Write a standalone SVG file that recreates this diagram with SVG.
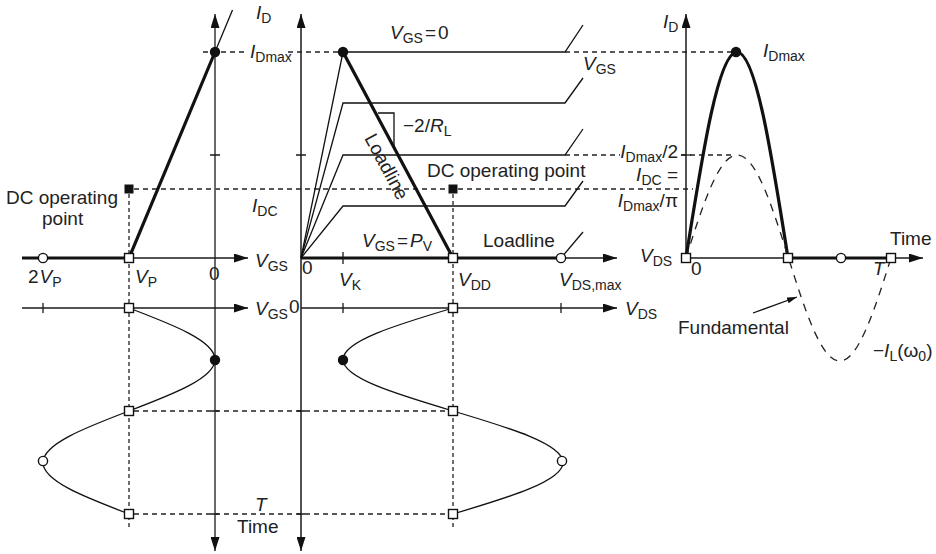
<svg xmlns="http://www.w3.org/2000/svg" width="936" height="554" viewBox="0 0 936 554">
<style>
text{font-family:"Liberation Sans",Arial,sans-serif;font-size:19px;fill:#222}
.i{font-style:italic}
.s{font-size:14px;font-style:normal}
.ax{stroke:#1a1a1a;stroke-width:1.5;fill:none}
.axg{stroke:#5a5a5a;stroke-width:1.8;fill:none}
.tk{stroke:#1a1a1a;stroke-width:1.3}
.th{stroke:#111;stroke-width:3.2;fill:none;stroke-linejoin:round}
.tn{stroke:#111;stroke-width:1.3;fill:none}
.da{stroke:#222;stroke-width:1.3;stroke-dasharray:5 4;fill:none}
.dt{stroke:#222;stroke-width:1.3;stroke-dasharray:4 3;fill:none}
.fd{stroke:#222;stroke-width:1.3;stroke-dasharray:8 7;fill:none}
.sq{fill:#fff;stroke:#111;stroke-width:1.4}
.fsq{fill:#111}
.oc{fill:#fff;stroke:#111;stroke-width:1.4}
.fc{fill:#111}
</style>
<defs>
<marker id="ah" viewBox="0 0 14 9" refX="14" refY="4.5" markerWidth="14" markerHeight="9" markerUnits="userSpaceOnUse" orient="auto-start-reverse"><path d="M0,0 L14,4.5 L0,9 z" fill="#111"/></marker>
<marker id="ahs" viewBox="0 0 10 6" refX="10" refY="3" markerWidth="10" markerHeight="6" markerUnits="userSpaceOnUse" orient="auto"><path d="M0,0 L10,3 L0,6 z" fill="#111"/></marker>
</defs>

<g id="guides">
<path class="da" d="M203,52 H245 M288,52 H343 M565,52 H735"/>
<path class="da" d="M565,155 H620 M681,155 H735"/>
<path class="da" d="M134,189 H448 M458,189 H693"/>
<path class="da" d="M134,411 H448 M134,514 H448"/>
<path class="dt" d="M129,194 V527 M453,194 V527"/>
</g>

<g id="left-panel">
<path class="axg" d="M215,551 V14" marker-start="url(#ah)" marker-end="url(#ah)"/>
<path class="tk" d="M210,155 H220 M211,411 H219 M211,514 H219"/>
<path class="ax" d="M129,258 H248" marker-end="url(#ah)"/>
<path class="th" d="M22,258 H129"/>
<path class="ax" d="M22,308 H248" marker-end="url(#ah)"/>
<path class="tk" d="M43,303 V313"/>
<path class="th" d="M129,258 L215,52"/>
<path class="tn" d="M215,52 L232.5,10"/>
<path class="tn" d="M129,308 C173.1,324.8 215,340.9 215,359.5 C215,378.1 173.1,394.2 129,411 C84.9,427.8 43,443.9 43,462.5 C43,481.1 84.9,497.2 129,514"/>
<circle class="fc" cx="215" cy="52" r="5.2"/>
<circle class="oc" cx="43" cy="258" r="4.6"/>
<rect class="sq" x="124.5" y="253.5" width="9" height="9"/>
<rect class="fsq" x="124.5" y="184.5" width="9" height="9"/>
<rect class="sq" x="124.5" y="303.5" width="9" height="9"/>
<circle class="fc" cx="215" cy="360" r="5.2"/>
<rect class="sq" x="124.5" y="406.5" width="9" height="9"/>
<circle class="oc" cx="43" cy="461" r="4.6"/>
<rect class="sq" x="124.5" y="509.5" width="9" height="9"/>
<text x="256" y="19"><tspan class="i">I</tspan><tspan class="s" dy="4">D</tspan></text>
<text x="250" y="58"><tspan class="i">I</tspan><tspan class="s" dy="4">Dmax</tspan></text>
<text x="6" y="204">DC operating</text>
<text x="42" y="225">point</text>
<text x="252" y="212"><tspan class="i">I</tspan><tspan class="s" dy="4">DC</tspan></text>
<text x="255" y="267"><tspan class="i">V</tspan><tspan class="s" dy="4">GS</tspan></text>
<text x="28" y="283">2<tspan class="i" dx="1">V</tspan><tspan class="s" dy="4">P</tspan></text>
<text x="135" y="283"><tspan class="i">V</tspan><tspan class="s" dy="4">P</tspan></text>
<text x="209" y="280">0</text>
<text x="255" y="315"><tspan class="i">V</tspan><tspan class="s" dy="4">GS</tspan></text>
<text x="289" y="313">0</text>
<text x="255" y="511" class="i">T</text>
<text x="237" y="533">Time</text>
</g>

<g id="mid-panel">
<path class="ax" d="M301,551 V14" marker-start="url(#ah)" marker-end="url(#ah)"/>
<path class="tk" d="M296,155 H306 M297,411 H305 M297,514 H305"/>
<path class="ax" d="M561,258 H617" marker-end="url(#ah)"/>
<path class="th" d="M301,258 H561"/>
<path class="tk" d="M343,252 V264"/>
<path class="ax" d="M301,308 H617" marker-end="url(#ah)"/>
<path class="tk" d="M343,303 V313 M561,303 V313"/>
<path class="tn" d="M301,258 L343,52 H565 L583,25"/>
<path class="tn" d="M301,258 L343,103 H565 L583,78"/>
<path class="tn" d="M301,258 L343,155 H565 L583,129"/>
<path class="tn" d="M301,258 L343,206 H565 L583,181"/>
<path class="tn" d="M561,258 L583,232"/>
<path class="th" d="M343,52 L453,258"/>
<path class="tn" d="M378,113 H394 V147"/>
<path class="tn" d="M453,308 C396.7,324.8 343,340.9 343,359.5 C343,378.1 396.7,394.2 453,411 C509.3,427.8 563,443.9 563,462.5 C563,481.1 509.3,497.2 453,514"/>
<circle class="fc" cx="343" cy="52" r="5.2"/>
<rect class="sq" x="448.5" y="253.5" width="9" height="9"/>
<circle class="oc" cx="561" cy="258" r="4.6"/>
<rect class="fsq" x="448.5" y="184.5" width="9" height="9"/>
<rect class="sq" x="448.5" y="303.5" width="9" height="9"/>
<circle class="fc" cx="343" cy="360" r="5.2"/>
<rect class="sq" x="448.5" y="406.5" width="9" height="9"/>
<circle class="oc" cx="562" cy="461" r="4.6"/>
<rect class="sq" x="448.5" y="509.5" width="9" height="9"/>
<text x="390" y="39"><tspan class="i">V</tspan><tspan class="s" dy="4">GS</tspan><tspan dy="-4" dx="2">=</tspan><tspan dx="2">0</tspan></text>
<text x="583" y="70"><tspan class="i">V</tspan><tspan class="s" dy="4">GS</tspan></text>
<text x="403" y="132">−2/<tspan class="i">R</tspan><tspan class="s" dy="4">L</tspan></text>
<text transform="translate(364,138) rotate(61.9)">Loadline</text>
<text x="427" y="177">DC operating point</text>
<text x="362" y="247"><tspan class="i">V</tspan><tspan class="s" dy="4">GS</tspan><tspan dy="-4" dx="2">=</tspan><tspan class="i" dx="2">P</tspan><tspan class="s" dy="4">V</tspan></text>
<text x="483" y="247">Loadline</text>
<text x="302" y="274">0</text>
<text x="339" y="286"><tspan class="i">V</tspan><tspan class="s" dy="4">K</tspan></text>
<text x="458" y="286"><tspan class="i">V</tspan><tspan class="s" dy="4">DD</tspan></text>
<text x="559" y="286"><tspan class="i">V</tspan><tspan class="s" dy="4">DS,max</tspan></text>
<text x="625" y="315"><tspan class="i">V</tspan><tspan class="s" dy="4">DS</tspan></text>
</g>

<g id="right-panel">
<path class="ax" d="M686,258 V14" marker-end="url(#ah)"/>
<path class="tk" d="M681,155 H691"/>
<path class="ax" d="M686,258 H923" marker-end="url(#ah)"/>
<path class="th" d="M788,258 H891"/>
<path class="th" d="M686,258 C702.6,152.5 718.5,52 737,52 C755.5,52 771.4,152.5 788,258"/>
<path class="fd" d="M686,258 C702.7,205.2 718.7,155 737.25,155 C755.8,155 771.8,205.2 788.5,258 C805.2,310.8 821.2,361 839.75,361 C858.3,361 874.3,310.8 891,258"/>
<path class="tn" d="M753,313 L797,297" marker-end="url(#ahs)"/>
<circle class="fc" cx="736" cy="52" r="5.2"/>
<rect class="sq" x="681.5" y="253.5" width="9" height="9"/>
<rect class="sq" x="783.5" y="253.5" width="9" height="9"/>
<circle class="oc" cx="841" cy="258" r="4.6"/>
<rect class="sq" x="886.5" y="253.5" width="9" height="9"/>
<text x="663" y="28"><tspan class="i">I</tspan><tspan class="s" dy="4">D</tspan></text>
<text x="763" y="57"><tspan class="i">I</tspan><tspan class="s" dy="4">Dmax</tspan></text>
<text x="678" y="158" text-anchor="end"><tspan class="i">I</tspan><tspan class="s" dy="4">Dmax</tspan><tspan dy="-4">/2</tspan></text>
<text x="678" y="181" text-anchor="end"><tspan class="i">I</tspan><tspan class="s" dy="4">DC</tspan><tspan dy="-4"> =</tspan></text>
<text x="678" y="207" text-anchor="end"><tspan class="i">I</tspan><tspan class="s" dy="4">Dmax</tspan><tspan dy="-4">/π</tspan></text>
<text x="640" y="262"><tspan class="i">V</tspan><tspan class="s" dy="4">DS</tspan></text>
<text x="890" y="245">Time</text>
<text x="691" y="275">0</text>
<text x="873" y="275" class="i">T</text>
<text x="678" y="334">Fundamental</text>
<text x="873" y="357">−<tspan class="i">I</tspan><tspan class="s" dy="4">L</tspan><tspan dy="-4">(ω</tspan><tspan class="s" dy="4">0</tspan><tspan dy="-4">)</tspan></text>
</g>
</svg>
